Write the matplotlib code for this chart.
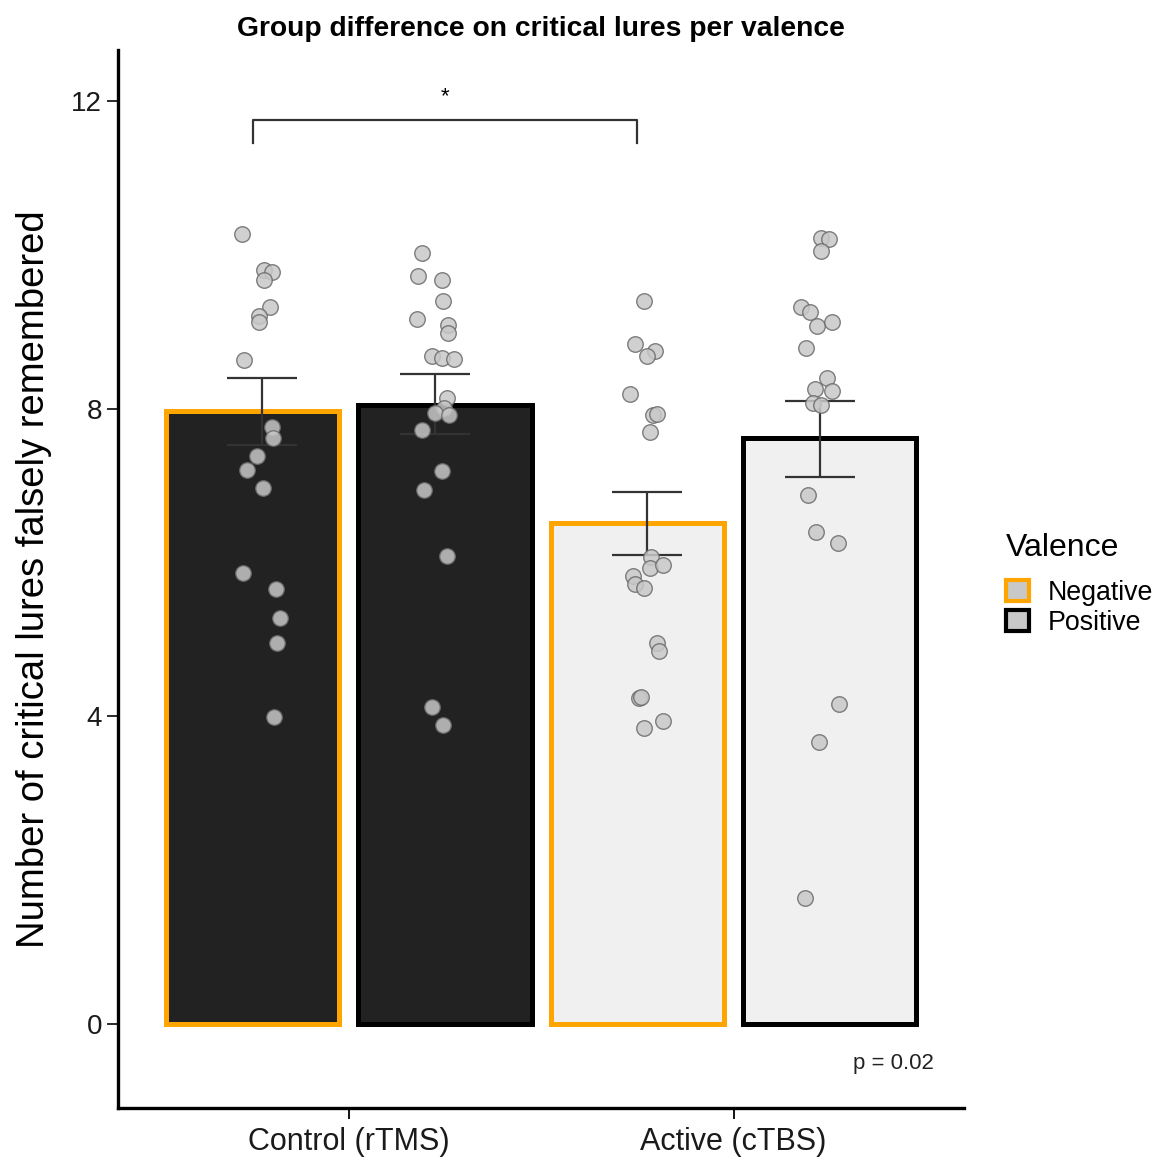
import numpy as np
import matplotlib
matplotlib.use('Agg')
from matplotlib import pyplot as plt
from matplotlib.patches import Patch

plt.rcParams['font.family'] = ['Liberation Sans', 'DejaVu Sans']

# 데이터
groups = ['Control (rTMS)', 'Active (cTBS)']
valences = ['Negative', 'Positive']
bar_means = [[7.97, 8.05], [6.51, 7.62]]
err_lo = [[7.52, 7.67], [6.09, 7.11]]
err_hi = [[8.40, 8.45], [6.92, 8.10]]

# 개별 참가자 점 (그룹, 밸런스 순서)
pts_ctrl_neg = [10.27, 9.80, 9.78, 9.67, 9.32, 9.20, 9.13, 8.63, 7.76, 7.62,
                7.38, 7.20, 6.97, 5.86, 5.66, 5.28, 4.95, 3.99]
jit_ctrl_neg = [-0.052, 0.005, 0.026, 0.005, 0.021, -0.008, -0.008, -0.047, 0.026, 0.029,
                -0.013, -0.039, 0.003, -0.049, 0.036, 0.047, 0.039, 0.031]
pts_ctrl_pos = [10.02, 9.72, 9.67, 9.40, 9.17, 9.09, 8.98, 8.68, 8.66, 8.64,
                8.14, 8.01, 7.94, 7.91, 7.72, 7.19, 6.94, 6.08, 4.12, 3.89]
jit_ctrl_pos = [-0.036, -0.044, 0.018, 0.021, -0.049, 0.034, 0.034, -0.008, 0.018, 0.049,
                0.029, 0.023, 0.0, 0.036, -0.034, 0.016, -0.029, 0.029, -0.008, 0.021]
pts_act_neg = [9.40, 8.84, 8.75, 8.68, 8.19, 7.92, 7.93, 7.70, 6.07, 5.93,
               5.97, 5.82, 5.72, 5.67, 4.95, 4.85, 4.24, 4.25, 3.94, 3.85]
jit_act_neg = [-0.008, -0.031, 0.021, 0.0, -0.044, 0.016, 0.026, 0.008, 0.010, 0.008,
               0.042, -0.036, -0.031, -0.008, 0.026, 0.031, -0.021, -0.016, 0.042, -0.008]
pts_act_pos = [10.22, 10.20, 10.05, 9.32, 9.25, 9.07, 9.12, 8.79, 8.40, 8.26,
               8.23, 8.07, 8.05, 6.88, 6.40, 6.25, 4.16, 3.67, 1.64]
jit_act_pos = [0.003, 0.023, 0.003, -0.049, -0.026, -0.008, 0.031, -0.036, 0.018, -0.013,
               0.031, -0.018, 0.003, -0.031, -0.010, 0.047, 0.049, -0.003, -0.039]

points = [[pts_ctrl_neg, pts_ctrl_pos], [pts_act_neg, pts_act_pos]]
jitters = [[jit_ctrl_neg, jit_ctrl_pos], [jit_act_neg, jit_act_pos]]

fills = ['#222222', '#f0f0f0']       # 그룹별 막대 색
edges = ['#ffa500', '#000000']       # 밸런스별 테두리 색

fig = plt.figure(figsize=(11.62, 11.62), dpi=100)
ax = fig.add_axes([0.1015, 0.0465, 0.7285, 0.9105])

bar_off = [-0.25, 0.25]
pt_off = [-0.225, 0.225]
for g in range(2):
    for v in range(2):
        xc = g + 1 + bar_off[v]
        ax.bar(xc, bar_means[g][v], width=0.45, color=fills[g],
               edgecolor=edges[v], linewidth=3.6, zorder=2)
        xe = g + 1 + pt_off[v]
        m = bar_means[g][v]
        ax.errorbar(xe, m, yerr=[[m - err_lo[g][v]], [err_hi[g][v] - m]],
                    fmt='none', ecolor='#333333', elinewidth=1.6, capsize=25,
                    capthick=1.6, zorder=3)
        xs = np.array(jitters[g][v]) + xe
        ax.scatter(xs, points[g][v], s=125, facecolor='#c8c8c8', edgecolor='#6a6a6a',
                   linewidth=1.0, alpha=0.85, zorder=4)

# 유의성 표시
ax.plot([0.75, 0.75, 1.75, 1.75], [11.45, 11.75, 11.75, 11.45], color='#333333', lw=1.6)
ax.text(1.25, 12.05, '*', ha='center', va='center', fontsize=16)
ax.text(2.52, -0.51, 'p = 0.02', ha='right', va='center', fontsize=16, color='#222222')

ax.set_xlim(0.4, 2.6)
ax.set_ylim(-1.09, 12.66)
ax.set_xticks([1, 2])
ax.set_xticklabels(groups, fontsize=22, color='#1a1a1a')
ax.set_yticks([0, 4, 8, 12])
ax.tick_params(axis='y', labelsize=20, length=8, width=1.3, colors='#1a1a1a')
ax.tick_params(axis='x', length=8, width=1.3, pad=6)
for s in ['top', 'right']:
    ax.spines[s].set_visible(False)
for s in ['left', 'bottom']:
    ax.spines[s].set_linewidth(2.4)
ax.set_ylabel('Number of critical lures falsely remembered', fontsize=27.5, labelpad=14)
ax.set_title('Group difference on critical lures per valence', fontsize=20.3,
             fontweight='bold', pad=10)

handles = [Patch(facecolor='#c8c8c8', edgecolor=edges[i], linewidth=3, label=valences[i])
           for i in range(2)]
leg = fig.legend(handles=handles, title='Valence', loc='center left',
                 bbox_to_anchor=(0.845, 0.497), frameon=False, fontsize=19.3,
                 title_fontsize=23, handlelength=0.85, handleheight=0.85,
                 labelspacing=0.15, handletextpad=0.7)
leg._legend_box.align = 'left'
leg._legend_box.sep = 12

fig.savefig('out.png', dpi=100)
